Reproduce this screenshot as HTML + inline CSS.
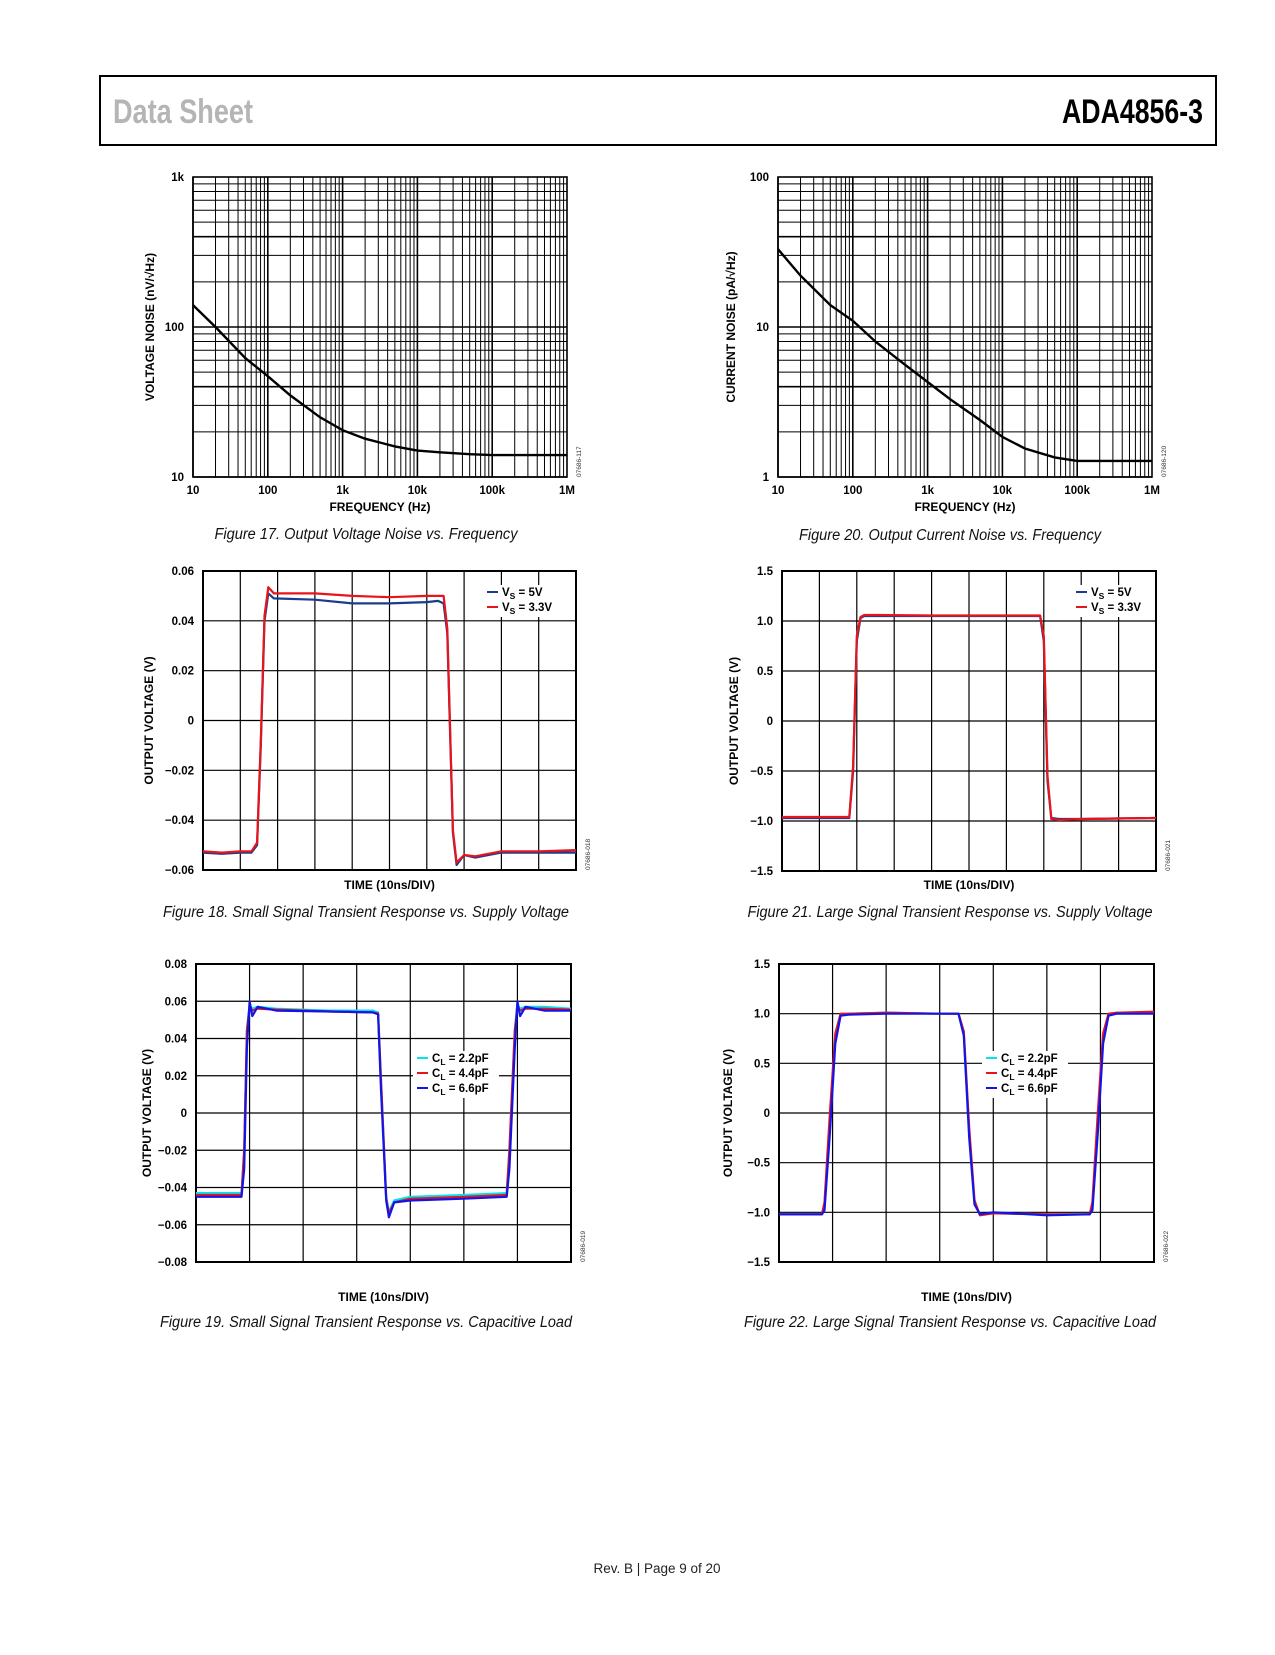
<!DOCTYPE html>
<html><head><meta charset="utf-8"><style>
body{margin:0;background:#fff;}
svg text{font-family:"Liberation Sans",sans-serif;}
.t{font-size:11.5px;font-weight:bold;fill:#000;}
.ax{font-size:12px;font-weight:bold;fill:#000;}
.cap{font-size:15.5px;font-style:italic;fill:#111;}
.id{font-size:6.5px;fill:#333;}
</style></head><body>
<svg id="page" width="1275" height="1650" xmlns="http://www.w3.org/2000/svg">
<rect x="100" y="76" width="1116" height="69" fill="none" stroke="#000" stroke-width="2"/>
<text x="113" y="123" textLength="140" lengthAdjust="spacingAndGlyphs" style="font-size:34px;font-weight:bold;fill:#b5b5b5">Data Sheet</text>
<text x="1062" y="123" textLength="141" lengthAdjust="spacingAndGlyphs" style="font-size:34px;font-weight:bold;fill:#000">ADA4856-3</text>
<text x="657" y="1573" text-anchor="middle" style="font-size:13.5px;fill:#222">Rev. B | Page 9 of 20</text>
<g id="charts"></g>
</svg>
<script>
// ---- Chart data ----
const f17_freq = [10,20,50,100,200,500,1000,2000,5000,10000,20000,50000,100000,1000000];
const f17_noise = [140,100,62,47,35,25,20.5,18,16,15,14.6,14.2,14,14];
const f20_freq = [10,20,50,100,200,500,1000,2000,5000,10000,20000,50000,100000,1000000];
const f20_noise = [33,22,14,11,8,5.6,4.3,3.3,2.4,1.85,1.55,1.35,1.28,1.28];
const logTickLabels = ["10","100","1k","10k","100k","1M"];

const f18_t = [0,0.5,1,1.3,1.45,1.55,1.65,1.75,1.9,3,4,5,6,6.3,6.45,6.55,6.7,6.8,7,7.3,8,9,10];
const f18_blue = [-0.053,-0.0535,-0.053,-0.053,-0.05,-0.01,0.040,0.051,0.049,0.0485,0.047,0.047,0.0475,0.048,0.047,0.035,-0.045,-0.058,-0.054,-0.055,-0.053,-0.053,-0.053];
const f18_red  = [-0.0525,-0.053,-0.0525,-0.0525,-0.049,-0.008,0.042,0.0535,0.051,0.051,0.050,0.0495,0.050,0.050,0.050,0.037,-0.044,-0.057,-0.054,-0.0545,-0.0525,-0.0525,-0.052];
const f18_yTicks = ["0.06","0.04","0.02","0","\u22120.02","\u22120.04","\u22120.06"];

const f21_t = [0,1,1.8,1.9,2.0,2.1,2.2,2.5,4,6,6.9,7.0,7.1,7.2,7.4,8,10];
const f21_blue = [-0.97,-0.97,-0.97,-0.5,0.8,1.03,1.05,1.05,1.05,1.05,1.05,0.8,-0.6,-0.97,-0.98,-0.98,-0.97];
const f21_red  = [-0.96,-0.96,-0.96,-0.45,0.85,1.04,1.06,1.06,1.055,1.055,1.055,0.85,-0.55,-0.98,-0.99,-0.98,-0.97];
const f21_yTicks = ["1.5","1.0","0.5","0","\u22120.5","\u22121.0","\u22121.5"];

const f19_t = [0,0.5,0.85,0.9,0.95,1.0,1.05,1.15,1.5,2.5,3.3,3.4,3.45,3.55,3.6,3.7,4.0,5.0,5.8,5.85,5.95,6.0,6.05,6.15,6.5,7];
const f19_cyan = [-0.043,-0.043,-0.043,-0.02,0.045,0.058,0.056,0.057,0.056,0.055,0.055,0.054,0.02,-0.045,-0.053,-0.047,-0.045,-0.044,-0.043,-0.02,0.045,0.058,0.056,0.057,0.057,0.056];
const f19_red  = [-0.044,-0.044,-0.044,-0.02,0.044,0.057,0.055,0.056,0.0555,0.0545,0.054,0.0535,0.02,-0.046,-0.054,-0.048,-0.046,-0.045,-0.044,-0.02,0.044,0.057,0.055,0.056,0.056,0.0555];
const f19_blue = [-0.045,-0.045,-0.045,-0.03,0.035,0.060,0.052,0.057,0.055,0.0545,0.054,0.053,0.015,-0.047,-0.056,-0.048,-0.047,-0.046,-0.045,-0.03,0.035,0.060,0.052,0.057,0.055,0.055];
const f19_yTicks = ["0.08","0.06","0.04","0.02","0","\u22120.02","\u22120.04","\u22120.06","\u22120.08"];

const f22_t = [0,0.5,0.8,0.85,0.95,1.05,1.15,1.3,2,3,3.35,3.45,3.55,3.65,3.75,4,5,5.8,5.85,5.95,6.05,6.15,6.3,7];
const f22_cyan = [-1.02,-1.02,-1.02,-0.95,-0.1,0.75,0.99,1.0,1.01,1.0,1.0,0.8,-0.2,-0.9,-1.02,-1.01,-1.02,-1.02,-0.95,-0.1,0.75,0.99,1.0,1.01];
const f22_red  = [-1.02,-1.02,-1.02,-0.9,0.0,0.8,1.0,1.0,1.01,1.0,1.0,0.82,-0.15,-0.88,-1.03,-1.01,-1.02,-1.02,-0.9,0.0,0.8,1.0,1.01,1.02];
const f22_blue = [-1.02,-1.02,-1.02,-0.98,-0.2,0.7,0.98,0.99,1.0,1.0,1.0,0.78,-0.25,-0.92,-1.02,-1.0,-1.03,-1.02,-0.98,-0.2,0.7,0.98,1.0,1.0];
const f22_yTicks = ["1.5","1.0","0.5","0","\u22120.5","\u22121.0","\u22121.5"];

const NS="http://www.w3.org/2000/svg";
const root=document.getElementById('charts');
function mk(tag,attrs,parent){const e=document.createElementNS(NS,tag);for(const k in attrs)e.setAttribute(k,attrs[k]);(parent||root).appendChild(e);return e;}
function txt(x,y,s,cls,parent,anchor){const e=mk('text',{x:x,y:y,class:cls,'text-anchor':anchor||'middle'},parent);e.textContent=s;return e;}

function logChart(o){
  const g=mk('g',{});
  
  
  const lx=v=>o.x0+(Math.log10(v)-1)/5*(o.x1-o.x0);
  const ly=v=>o.y1-(Math.log10(v)-o.ylog0)/2*(o.y1-o.y0);
  for(let d=1;d<=5;d++)for(let m=1;m<=9;m++){const v=m*Math.pow(10,d);if(v>1e6)break;const x=lx(v);
    const l=mk('line',{x1:x,x2:x,y1:o.y0,y2:o.y1,stroke:'#000','stroke-width':m==1?1.6:1},g);
    }
  for(let d=0;d<2;d++)for(let m=1;m<=9;m++){const v=m*Math.pow(10,o.ylog0+d);const y=ly(v);
    const l=mk('line',{x1:o.x0,x2:o.x1,y1:y,y2:y,stroke:'#000','stroke-width':(m==1||m==4)?1.6:1},g);
    }
  const fr=mk('rect',{x:o.x0,y:o.y0,width:o.x1-o.x0,height:o.y1-o.y0,fill:'none',stroke:'#000','stroke-width':1.6},g);
  
  const p=mk('path',{d:o.fx.map((f,i)=>(i?'L':'M')+lx(f).toFixed(1)+','+ly(o.fy[i]).toFixed(1)).join(''),fill:'none',stroke:'#000','stroke-width':2.4},g);
  
  logTickLabels.forEach((s,i)=>{const t=txt(o.x0+i*(o.x1-o.x0)/5,o.y1+17,s,'t',g);});
  o.yLabels.forEach((s,i)=>{const t=txt(o.x0-9,o.y1-i*(o.y1-o.y0)/2+4,s,'t',g,'end');});
  finish(g,o,o.y1+34);
}
function finish(g,o,ty){
  const a=txt((o.x0+o.x1)/2,ty,o.xtitle,'ax',g);
  const cy=(o.y0+o.y1)/2;
  const b=txt(o.ylx,cy,o.ytitle,'ax',g);b.setAttribute('transform','rotate(-90 '+o.ylx+' '+cy+')');
  
  const c=txt(o.capx,o.capy,o.caption,'cap',g);c.setAttribute('textLength',o.capw);c.setAttribute('lengthAdjust','spacingAndGlyphs');
  
  const idx=o.x1+14,idy=o.y1;
  const d=txt(idx,idy,o.id,'id',g,'start');d.setAttribute('transform','rotate(-90 '+idx+' '+idy+')');
  
}
function linChart(o){
  const g=mk('g',{});
  
  
  const nY=o.yTicks.length-1;
  const sx=v=>o.x0+v/o.nx*(o.x1-o.x0);
  const sy=v=>o.y1-(v-o.ymin)/(o.ymax-o.ymin)*(o.y1-o.y0);
  for(let i=1;i<o.nx;i++){const x=sx(i);const l=mk('line',{x1:x,x2:x,y1:o.y0,y2:o.y1,stroke:'#000','stroke-width':1.2},g);
    }
  o.yTicks.forEach((s,i)=>{const y=o.y0+i*(o.y1-o.y0)/nY;
    const l=mk('line',{x1:o.x0,x2:o.x1,y1:y,y2:y,stroke:'#000','stroke-width':1.2},g);
    
    const t=txt(o.x0-9,y+4,s,'t',g,'end');});
  const fr=mk('rect',{x:o.x0,y:o.y0,width:o.x1-o.x0,height:o.y1-o.y0,fill:'none',stroke:'#000','stroke-width':2},g);
  
  const lg=mk('g',{},g);
  
  mk('rect',{x:o.lx-4,y:o.ly-11,width:o.lw,height:o.series.length*15+2,fill:'#fff'},lg);
  o.series.forEach((s,i)=>{
    const p=mk('path',{d:o.t.map((t,k)=>(k?'L':'M')+sx(t).toFixed(1)+','+sy(s.v[k]).toFixed(1)).join(''),fill:'none',stroke:s.c,'stroke-width':2.2,'stroke-linejoin':'round'},g);
    
    const y=o.ly+i*15;
    const e=mk('g',{},lg);
    mk('line',{x1:o.lx,x2:o.lx+11,y1:y-4,y2:y-4,stroke:s.c,'stroke-width':2},e);
    const t=mk('text',{x:o.lx+15,y:y,class:'t'},e);
    t.innerHTML=s.label[0]+'<tspan dy="3" font-size="8.5">'+s.label[1]+'</tspan><tspan dy="-3">'+s.label[2]+'</tspan>';
  });
  g.appendChild(lg);
  finish(g,o,o.ty);
}
logChart({name:'chart-voltage-noise',x0:193,x1:567,y0:177,y1:477,ylog0:1,fx:f17_freq,fy:f17_noise,yLabels:["10","100","1k"],
  xtitle:'FREQUENCY (Hz)',ytitle:'VOLTAGE NOISE (nV/\u221AHz)',ylx:154,caption:'Figure 17. Output Voltage Noise vs. Frequency',capy:539,capx:366,capw:303,id:'07686-117'});
logChart({name:'chart-current-noise',x0:778,x1:1152,y0:177,y1:477,ylog0:0,fx:f20_freq,fy:f20_noise,yLabels:["1","10","100"],
  xtitle:'FREQUENCY (Hz)',ytitle:'CURRENT NOISE (pA/\u221AHz)',ylx:735,caption:'Figure 20. Output Current Noise vs. Frequency',capy:540,capx:950,capw:302,id:'07686-120'});
linChart({name:'chart-small-signal-supply',x0:203,x1:576,y0:571,y1:870,nx:10,ymin:-0.06,ymax:0.06,yTicks:f18_yTicks,t:f18_t,
  series:[{key:'vs-5v',c:'#1a3c8c',v:f18_blue,label:['V','S',' = 5V']},{key:'vs-3v3',c:'#e8141c',v:f18_red,label:['V','S',' = 3.3V']}],
  lx:487,ly:596,lw:80,ty:889,xtitle:'TIME (10ns/DIV)',ytitle:'OUTPUT VOLTAGE (V)',ylx:153,caption:'Figure 18. Small Signal Transient Response vs. Supply Voltage',capy:917,capx:366,capw:406,id:'07686-018'});
linChart({name:'chart-large-signal-supply',x0:782,x1:1156,y0:571,y1:871,nx:10,ymin:-1.5,ymax:1.5,yTicks:f21_yTicks,t:f21_t,
  series:[{key:'vs-5v',c:'#1a3c8c',v:f21_blue,label:['V','S',' = 5V']},{key:'vs-3v3',c:'#e8141c',v:f21_red,label:['V','S',' = 3.3V']}],
  lx:1076,ly:596,lw:80,ty:889,xtitle:'TIME (10ns/DIV)',ytitle:'OUTPUT VOLTAGE (V)',ylx:738,caption:'Figure 21. Large Signal Transient Response vs. Supply Voltage',capy:917,capx:950,capw:405,id:'07686-021'});
linChart({name:'chart-small-signal-capload',x0:196,x1:571,y0:964,y1:1262,nx:7,ymin:-0.08,ymax:0.08,yTicks:f19_yTicks,t:f19_t,
  series:[{key:'cl-2p2',c:'#00e5ef',v:f19_cyan,label:['C','L',' = 2.2pF']},{key:'cl-4p4',c:'#e8141c',v:f19_red,label:['C','L',' = 4.4pF']},{key:'cl-6p6',c:'#1414e8',v:f19_blue,label:['C','L',' = 6.6pF']}],
  lx:417,ly:1062,lw:86,ty:1301,xtitle:'TIME (10ns/DIV)',ytitle:'OUTPUT VOLTAGE (V)',ylx:151,caption:'Figure 19. Small Signal Transient Response vs. Capacitive Load',capy:1327,capx:366,capw:412,id:'07686-019'});
linChart({name:'chart-large-signal-capload',x0:779,x1:1154,y0:964,y1:1262,nx:7,ymin:-1.5,ymax:1.5,yTicks:f22_yTicks,t:f22_t,
  series:[{key:'cl-2p2',c:'#00e5ef',v:f22_cyan,label:['C','L',' = 2.2pF']},{key:'cl-4p4',c:'#e8141c',v:f22_red,label:['C','L',' = 4.4pF']},{key:'cl-6p6',c:'#1414e8',v:f22_blue,label:['C','L',' = 6.6pF']}],
  lx:986,ly:1062,lw:86,ty:1301,xtitle:'TIME (10ns/DIV)',ytitle:'OUTPUT VOLTAGE (V)',ylx:732,caption:'Figure 22. Large Signal Transient Response vs. Capacitive Load',capy:1327,capx:950,capw:412,id:'07686-022'});
</script>
</body></html>
